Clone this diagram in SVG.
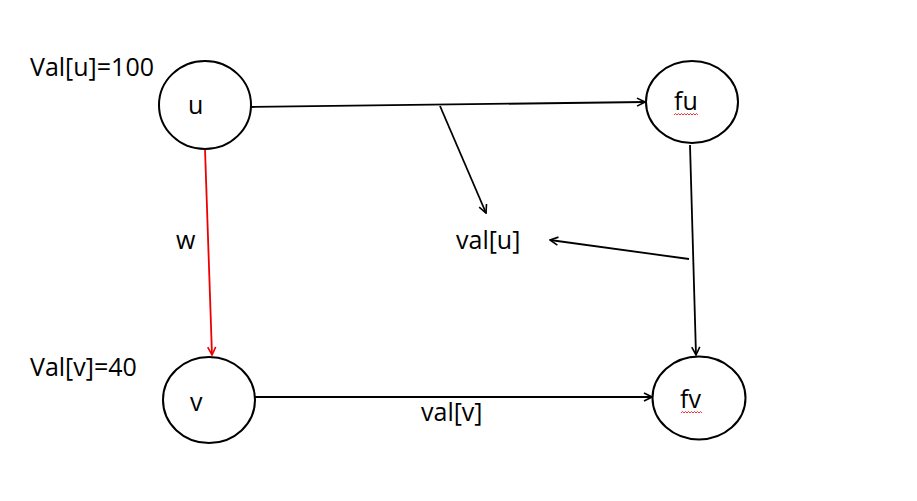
<svg xmlns="http://www.w3.org/2000/svg" width="917" height="501" viewBox="0 0 917 501">
<style>
  .node ellipse { fill: #fff; stroke: #000; stroke-width: 2; }
  text { font-family: "Open Sans", "Liberation Sans", sans-serif; font-size: 25px; fill: #000; }
  .conn line { stroke: #000; stroke-width: 1.8; }
  .conn line.red { stroke: #e00; }
  .squig { fill: none; stroke: #e00; stroke-width: 0.8; }
</style>
<defs>
  <marker id="arr" viewBox="0 0 10 10" refX="9" refY="5" markerWidth="10" markerHeight="10" orient="auto" markerUnits="userSpaceOnUse">
    <path d="M1,1 L9,5 L1,9" fill="none" stroke="#000" stroke-width="1.6"/>
  </marker>
  <marker id="arrRed" viewBox="0 0 10 10" refX="9" refY="5" markerWidth="10" markerHeight="10" orient="auto" markerUnits="userSpaceOnUse">
    <path d="M1,1 L9,5 L1,9" fill="none" stroke="#e00" stroke-width="1.6"/>
  </marker>
</defs>
<rect width="917" height="501" fill="#fff"/>
<g id="connectors" class="conn">
  <line x1="251" y1="107" x2="645" y2="102" marker-end="url(#arr)"/>
  <line x1="440" y1="106" x2="486" y2="213" marker-end="url(#arr)"/>
  <line x1="690" y1="145" x2="696" y2="355" marker-end="url(#arr)"/>
  <line x1="689" y1="259" x2="550" y2="240" marker-end="url(#arr)"/>
  <line class="red" x1="205" y1="149" x2="212" y2="355" marker-end="url(#arrRed)"/>
  <line x1="255" y1="397" x2="652" y2="397" marker-end="url(#arr)"/>
</g>
<g id="node-u" class="node">
  <ellipse cx="205" cy="105" rx="46" ry="44"/>
  <text x="188" y="114">u</text>
</g>
<g id="node-fu" class="node">
  <ellipse cx="692" cy="102" rx="46" ry="41"/>
  <text x="674" y="110">fu</text>
  <path class="squig" d="M674,115 l1.5,-1.5 l1.5,1.5 l1.5,-1.5 l1.5,1.5 l1.5,-1.5 l1.5,1.5 l1.5,-1.5 l1.5,1.5 l1.5,-1.5 l1.5,1.5 l1.5,-1.5 l1.5,1.5 l1.5,-1.5 l1.5,1.5 l1.5,-1.5 l1.5,1.5"/>
</g>
<g id="node-v" class="node">
  <ellipse cx="209" cy="400" rx="46" ry="43"/>
  <text x="190" y="411">v</text>
</g>
<g id="node-fv" class="node">
  <ellipse cx="699" cy="398" rx="46.5" ry="41.5"/>
  <text x="680" y="408">fv</text>
  <path class="squig" d="M681,413 l1.5,-1.5 l1.5,1.5 l1.5,-1.5 l1.5,1.5 l1.5,-1.5 l1.5,1.5 l1.5,-1.5 l1.5,1.5 l1.5,-1.5 l1.5,1.5 l1.5,-1.5 l1.5,1.5 l1.5,-1.5 l1.5,1.5"/>
</g>
<g id="labels">
  <text x="30" y="76">Val[u]=100</text>
  <text x="30" y="376">Val[v]=40</text>
  <text x="176" y="249">w</text>
  <text x="456" y="249">val[u]</text>
  <text x="421" y="421">val[v]</text>
</g>
</svg>
